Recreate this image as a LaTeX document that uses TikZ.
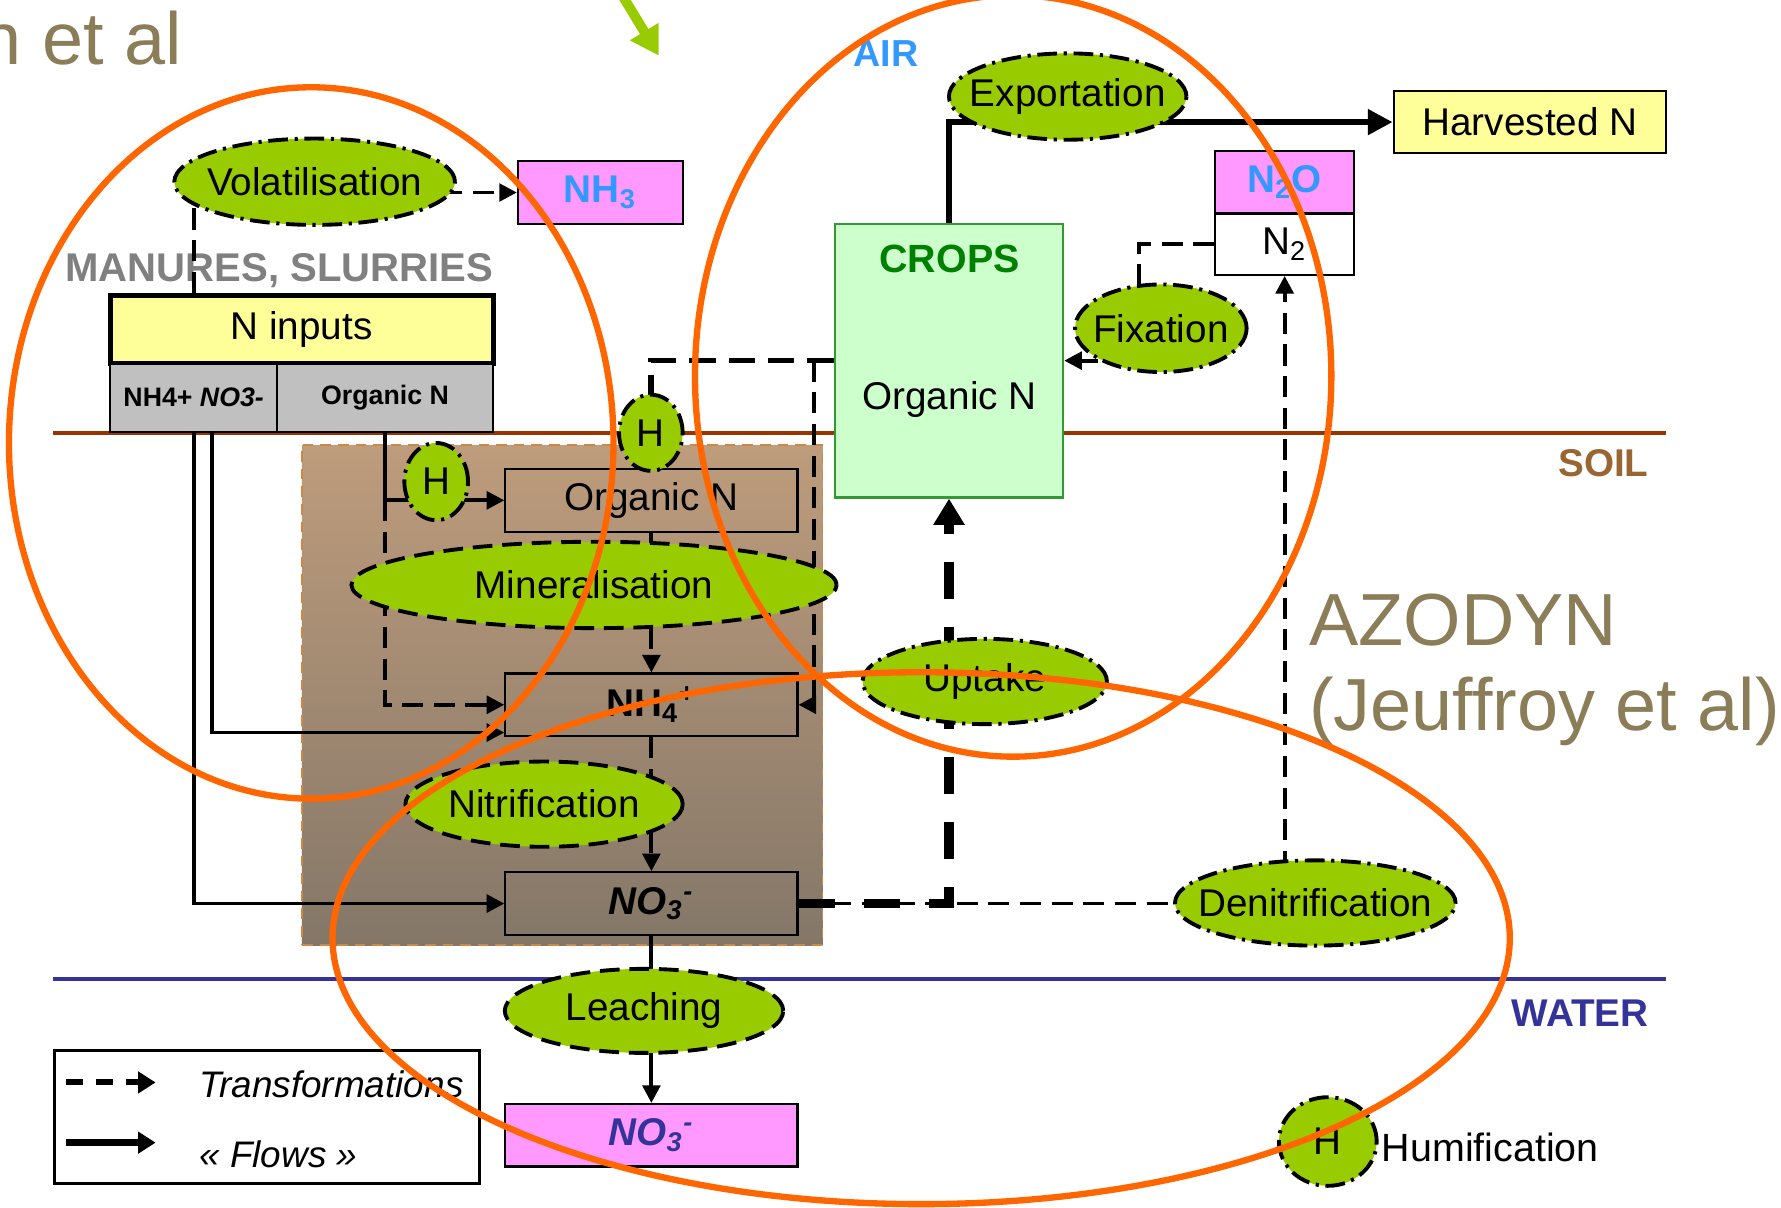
\documentclass[tikz,border=0pt]{standalone}
\usepackage{fontspec}
\setmainfont{Liberation Sans}
\usepackage{xcolor}
\usepackage{tikz}
\usetikzlibrary{arrows.meta,shapes.geometric}
\definecolor{procgreen}{RGB}{153,204,0}
\definecolor{inyellow}{RGB}{255,255,153}
\definecolor{gasmagenta}{RGB}{255,153,255}
\definecolor{gasblue}{RGB}{51,153,255}
\definecolor{cropfill}{RGB}{204,255,204}
\definecolor{cropline}{RGB}{51,153,51}
\definecolor{croptext}{RGB}{0,128,0}
\definecolor{soiltop}{RGB}{190,156,124}
\definecolor{soilbottom}{RGB}{132,119,104}
\definecolor{soiledge}{RGB}{204,136,68}
\definecolor{soilline}{RGB}{153,51,0}
\definecolor{soiltext}{RGB}{153,102,51}
\definecolor{waterblue}{RGB}{51,51,153}
\definecolor{manuregray}{RGB}{128,128,128}
\definecolor{boxgray}{RGB}{192,192,192}
\definecolor{titleolive}{RGB}{139,125,87}
\definecolor{ringorange}{RGB}{255,102,0}
\newcommand{\ammonium}{NH\textsubscript{4}\textsuperscript{+}}
\newcommand{\nitrate}{NO\textsubscript{3}\textsuperscript{-}}
\newcommand{\procname}[1]{\makebox[0pt]{\raisebox{-0.6pt}{#1}}}

\begin{document}
\begin{tikzpicture}[
    x=0.011358cm,
    y=-0.011358cm,
    >={Triangle[length=5pt,width=5pt]},
    font=\fontsize{11}{13}\selectfont,
    box/.style={
        rectangle,
        draw,
        line width=0.6pt,
        minimum width=2.919cm,
        minimum height=0.625cm,
        inner sep=0pt
    },
    gasbox/.style={
        box,
        fill=gasmagenta,
        font=\fontsize{11}{13}\selectfont\bfseries
    },
    graybox/.style={
        box,
        fill=boxgray,
        minimum height=0.681cm,
        font=\fontsize{7.6}{9}\selectfont\bfseries
    },
    proc/.style 2 args={
        ellipse,
        draw,
        fill=procgreen,
        line width=1.1pt,
        minimum width=#1,
        minimum height=#2,
        inner sep=0pt
    },
    dashdot/.style={dash pattern=on 5.6pt off 1.9pt on 0.9pt off 1.9pt},
    dashonly/.style={dash pattern=on 5.6pt off 2.8pt},
    flow/.style={line width=1.1pt},
    trans/.style={line width=1.1pt, dash pattern=on 6pt off 3pt},
    humline/.style={line width=1.6pt, dash pattern=on 7.5pt off 3.7pt},
    uptakeline/.style={line width=2.8pt, dash pattern=on 10.5pt off 8pt},
    ring/.style={draw=ringorange, line width=1.8pt},
    zonelabel/.style={font=\fontsize{11}{13}\selectfont\bfseries, inner sep=0pt}
]

\useasboundingbox (0,0) rectangle (1568,1063);

\coordinate (pointertail) at (540,-17);
\coordinate (pointerhead) at (580,49);
\draw[procgreen, line width=2.8pt, -{Triangle[length=8pt,width=9pt]}]
(pointertail) -- (pointerhead);

\node[anchor=base east, inner sep=0pt, text=titleolive,
      font=\fontsize{21}{25}\selectfont] (authortail) at (161,57)
{n et al};

\node[anchor=base west, inner sep=0pt, text=titleolive,
      font=\fontsize{21}{25}\selectfont] (azodyn) at (1152,568)
{AZODYN};

\node[anchor=base west, inner sep=0pt, text=titleolive,
      font=\fontsize{21}{25}\selectfont] (azodynref) at (1152,643)
{(Jeuffroy et al)};

\node[rectangle, draw=soiledge, line width=0.5pt, densely dashed,
      top color=soiltop, bottom color=soilbottom,
      minimum width=5.202cm, minimum height=4.998cm, inner sep=0pt]
(soilzone) at (495,612) {};

\coordinate (soilleft) at (47,381);
\coordinate (soilright) at (1467,381);
\coordinate (waterleft) at (47,862);
\coordinate (waterright) at (1467,862);

\draw[soilline, line width=1.1pt]
(soilleft) -- (soilright);

\draw[waterblue, line width=1.3pt]
(waterleft) -- (waterright);

\node[zonelabel, text=gasblue, font=\fontsize{10.7}{12}\selectfont\bfseries] (air) at (780,47)
{AIR};

\node[zonelabel, text=soiltext, anchor=east] (soil) at (1452,408)
{SOIL};

\node[zonelabel, text=waterblue, anchor=east] (water) at (1452,892)
{WATER};

\node[zonelabel, text=manuregray, font=\fontsize{11.4}{13}\selectfont\bfseries] (manures) at (246,238)
{MANURES, SLURRIES};

\node[box, fill=inyellow, line width=1.4pt, minimum width=3.828cm,
      minimum height=0.681cm] (inputs) at (265.5,290)
{N inputs};

\node[graybox, minimum width=1.670cm] (mingray) at (170.5,350)
{NH4+ \textit{NO3-}};

\node[graybox, minimum width=2.158cm] (orggray) at (339,350)
{Organic N};

\node[gasbox, minimum width=1.647cm, text=gasblue] (nh3) at (528.5,169.5)
{NH\textsubscript{3}};

\node[box, fill=cropfill, draw=cropline, minimum width=2.283cm,
      minimum height=2.737cm] (crops) at (835.5,317.5) {};

\node[text=croptext, font=\fontsize{11.2}{13}\selectfont\bfseries] (cropstitle) at (836,228)
{CROPS};

\node (cropsorg) at (836,352)
{Organic N};

\node[box, fill=inyellow, minimum width=2.726cm] (harvest) at (1347,107.5)
{Harvested N};

\node[gasbox, minimum width=1.386cm, text=gasblue] (n2o) at (1131,160.5)
{N\textsubscript{2}O};

\node[box, fill=white, minimum width=1.386cm, minimum height=0.613cm] (n2) at (1131,215)
{N\textsubscript{2}};

\node[box] (orgsoil) at (573.5,440.5)
{Organic N};

\node[box, font=\fontsize{11}{13}\selectfont\bfseries] (nh4) at (573.5,620.5)
{\ammonium};

\node[box, font=\fontsize{11}{13}\selectfont\bfseries\itshape] (no3) at (573.5,795.5)
{\nitrate};

\node[gasbox, font=\fontsize{11}{13}\selectfont\bfseries\itshape, text=waterblue] (no3w) at (573.5,999.5)
{\nitrate};

\draw[trans]
(mingray.south |- inputs.north) -- (mingray.south |- nh3.west);

\draw[trans, ->]
(277,169.5) -- (nh3.west);

\draw[flow, ->]
(mingray.south) |- (no3.west);

\draw[flow, ->]
([xshift=5.3pt]mingray.south) |- ([yshift=-7.9pt]nh4.west);

\draw[flow, ->]
(orggray.south) |- (orgsoil.west);

\draw[trans, ->]
(orggray.south |- orgsoil.west) |- (nh4.west);

\draw[trans, ->]
(orgsoil.south) -- (nh4.north);

\draw[trans, ->]
(nh4.south) -- (no3.north);

\draw[flow, ->]
(no3.south) -- (no3w.north);

\draw[humline]
(crops.west) -| (573,381);

\draw[trans, ->]
([xshift=-5.5pt]crops.west) |- (nh4.east);

\draw[trans]
(no3.east) -- (1158,795.5);

\draw[uptakeline, -{Triangle[length=7.5pt,width=8.5pt]}]
(no3.east) -| (crops.south);

\draw[trans, ->]
(n2.south |- 1158,795.5) -- (n2.south);

\draw[trans]
(n2.west) -| (1003,289);

\draw[trans, ->]
(1022,317.5) -- (crops.east);

\draw[line width=1.6pt, -{Triangle[length=7pt,width=7pt]}]
(crops.north) |- (harvest.west);

\node[proc={2.805cm}{0.863cm}, dashdot] (vol) at (277,160)
{\procname{Volatilisation}};

\node[proc={2.374cm}{0.863cm}, dashdot] (export) at (940,85)
{\procname{Exportation}};

\node[proc={1.715cm}{0.875cm}, dashdot] (fix) at (1022,289)
{\procname{Fixation}};

\node[proc={2.442cm}{0.852cm}, dashdot] (uptake) at (867,600)
{\procname{Uptake}};

\node[proc={4.850cm}{0.863cm}, dashonly] (mineral) at (523,515)
{\procname{Mineralisation}};

\node[proc={2.771cm}{0.852cm}, dashonly] (nitrif) at (479,708)
{\procname{Nitrification}};

\node[proc={2.805cm}{0.852cm}, dashdot] (denit) at (1158,795)
{\procname{Denitrification}};

\node[proc={2.783cm}{0.840cm}, dashonly] (leach) at (567,890)
{\procname{Leaching}};

\node[proc={0.636cm}{0.761cm}, dashdot] (htop) at (573,381)
{\procname{H}};

\node[proc={0.636cm}{0.772cm}, dashdot] (hleft) at (384,424)
{\procname{H}};

\node[proc={0.977cm}{0.886cm}, dashdot] (hum) at (1169,1005)
{\procname{H}};

\node[anchor=west, inner sep=0pt, font=\fontsize{11.2}{13}\selectfont] (humlabel) at (1216,1010)
{Humification};

\node[rectangle, draw, line width=0.7pt, minimum width=4.248cm,
      minimum height=1.329cm, inner sep=0pt] (legend) at (235,983.5) {};

\coordinate (transstart) at (58,953);
\coordinate (transend) at (137,953);
\coordinate (flowstart) at (58,1006);
\coordinate (flowend) at (137,1006);

\draw[line width=1.7pt, dash pattern=on 5pt off 3.5pt, -{Triangle[length=5pt,width=6pt]}]
(transstart) -- (transend);

\draw[line width=1.9pt, -{Triangle[length=5pt,width=6pt]}]
(flowstart) -- (flowend);

\node[anchor=west, inner sep=0pt, font=\fontsize{10.5}{12}\selectfont\itshape] (translabel) at (175,955)
{Transformations};

\node[anchor=west, inner sep=0pt, font=\fontsize{10.5}{12}\selectfont\itshape] (flowlabel) at (175,1016)
{« Flows »};

\draw[ring] (274,390) ellipse [x radius=3.021cm, y radius=3.555cm];
\draw[ring] (892,331) ellipse [x radius=3.180cm, y radius=3.805cm];
\draw[ring] (811,826) ellipse [x radius=5.883cm, y radius=2.658cm];

\end{tikzpicture}
\end{document}
